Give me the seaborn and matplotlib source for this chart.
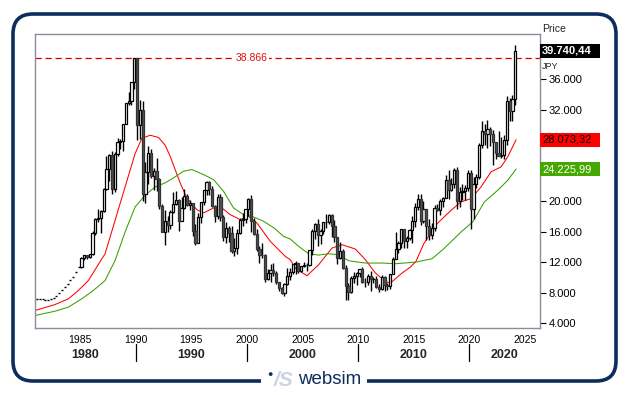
import numpy as np
import pandas as pd
import seaborn as sns
import matplotlib.pyplot as plt
import matplotlib.transforms as mtransforms
from matplotlib.patches import FancyBboxPatch, Rectangle

# --- data (quarterly) ---
early_close = [7100, 7200, 7150, 7050,
               7000, 7150, 7300, 7600,
               7900, 8300, 8700, 9100,
               9600, 10100, 10700, 11300]   # 1981Q1 - 1984Q4

q_close = [12580, 12880, 12700, 13110,  # 1985
           15860, 17650, 17850, 18700,
           21570, 24180, 26010, 21560,
           26260, 27770, 27920, 30160,
           32840, 33180, 35640, 38800,
           29980, 31940, 20980, 23850,  # 1990
           26290, 23290, 23920, 22980,
           19350, 15950, 17400, 16920,
           18590, 19590, 20110, 17420,
           19110, 20640, 19560, 19720,
           16140, 14520, 17910, 19870,  # 1995
           21410, 22530, 21560, 19360,
           18000, 20600, 17890, 15260,
           16530, 15830, 13410, 13840,
           15840, 17530, 17600, 18930,
           20340, 17410, 15750, 13790,  # 2000
           12990, 12970, 9770, 10540,
           11020, 10620, 9380, 8580,
           7970, 9080, 10220, 10680,
           11720, 11860, 10820, 11490,
           11670, 11580, 13570, 16110,  # 2005
           17060, 15510, 16130, 17230,
           17290, 18140, 16790, 15310,
           12530, 13480, 11260, 8860,
           8110, 9960, 10130, 10550,
           11090, 9380, 9370, 10230,  # 2010
           9760, 9820, 8700, 8460,
           10080, 9010, 8870, 10400,
           12400, 13680, 14460, 16290,
           14830, 15160, 16170, 17450,
           19210, 20240, 17390, 19030,  # 2015
           16760, 15580, 16450, 19110,
           18910, 20030, 20360, 22760,
           21450, 22300, 24120, 20010,
           21210, 21280, 21760, 23660,
           18920, 22290, 23190, 27440,  # 2020
           29180, 28790, 29450, 28790,
           27820, 26390, 25940, 26090,
           28040, 33190, 31860, 33460,
           39740]                        # 2024Q1

q_high = [12700, 12960, 12900, 13130,
          16100, 17800, 18930, 18900,
          21800, 25930, 26200, 26650,
          26400, 28340, 28200, 30200,
          32900, 34300, 35700, 38866,
          38700, 33300, 33200, 25200,
          27200, 26900, 24300, 25700,
          23000, 19650, 18900, 18000,
          18900, 21150, 21300, 20300,
          20500, 21550, 21000, 20200,
          19800, 17000, 18400, 19900,
          21500, 22700, 22700, 22000,
          19500, 20900, 20900, 18200,
          17300, 16800, 16700, 15200,
          16400, 17800, 18500, 19000,
          20400, 20800, 17800, 16300,
          14100, 14500, 13100, 11100,
          11800, 11950, 10900, 9300,
          8800, 9200, 11200, 11200,
          11800, 12200, 11900, 11500,
          11980, 11900, 13600, 16400,
          17100, 17600, 16400, 17300,
          18300, 18300, 18260, 17500,
          15200, 14600, 13700, 11600,
          9300, 10200, 10700, 10700,
          11100, 11400, 9900, 10400,
          10900, 10000, 10200, 9100,
          10250, 10200, 9300, 10450,
          12650, 15940, 14800, 16300,
          16200, 15400, 16400, 18000,
          19800, 20950, 20900, 20000,
          18900, 17600, 17100, 19500,
          19700, 20300, 20500, 23400,
          24130, 23050, 24300, 24450,
          21900, 22300, 22100, 24100,
          24100, 23200, 23600, 27600,
          30500, 30200, 30700, 29800,
          29400, 27800, 29200, 28400,
          28700, 33770, 33500, 33900,
          40500]

q_low = [11250, 12300, 12450, 12600,
         12900, 15500, 17300, 15820,
         18550, 21500, 22700, 20900,
         21200, 25900, 26800, 26600,
         30100, 32600, 32600, 34700,
         28000, 28200, 20000, 19800,
         22300, 23000, 21500, 21400,
         19000, 15900, 14300, 15900,
         16300, 18500, 19500, 16100,
         17400, 19000, 19400, 18900,
         15400, 14300, 14500, 17200,
         19500, 20800, 20800, 19200,
         17300, 17700, 17400, 14800,
         14500, 14700, 13200, 12800,
         13100, 15700, 16800, 17100,
         18100, 16000, 15600, 13400,
         11900, 12500, 9400, 9600,
         9400, 10200, 9100, 8200,
         7800, 7600, 9000, 9600,
         10400, 10500, 10600, 10700,
         11300, 10800, 11500, 12900,
         15100, 14100, 14400, 15700,
         16500, 17000, 15300, 14700,
         11700, 12400, 11100, 6990,
         7050, 8000, 9300, 9000,
         10000, 9300, 8800, 9000,
         8200, 9300, 8600, 8100,
         8300, 8200, 8300, 8500,
         10400, 12400, 13200, 13800,
         13900, 13900, 14900, 14500,
         16600, 18800, 16900, 17100,
         14900, 14900, 15000, 16100,
         18700, 18200, 19200, 20400,
         20300, 21300, 21800, 18950,
         19200, 20100, 20100, 21400,
         16360, 17600, 21700, 22950,
         27000, 27400, 26950, 27300,
         24700, 25500, 25900, 25700,
         25600, 27400, 30500, 30500,
         32700]

ma_red_year = [1980.95, 1982.75, 1983.95, 1984.85, 1985.75, 1986.5, 1987.25, 1988.15,
               1989.05, 1989.95, 1990.55, 1991.3, 1992.05, 1992.65, 1993.1, 1994.0,
               1994.6, 1995.5, 1996.1, 1997.0, 1997.75, 1998.5, 1999.4, 2000.15,
               2000.9, 2002.1, 2003.0, 2003.45, 2003.9, 2004.35, 2005.4, 2006.45,
               2007.65, 2008.55, 2009.75, 2010.65, 2011.55, 2012.45, 2012.9, 2013.95,
               2014.7, 2015.2, 2015.9, 2017.1, 2018.35, 2019.25, 2020.15, 2021.05,
               2021.95, 2022.85, 2023.45, 2024.2]
ma_red = [5650, 6430, 7180, 8280, 9590, 11350, 13100, 17490,
          21880, 26260, 28240, 28670, 28370, 27360, 25910, 22410,
          20430, 18890, 18460, 19110, 19110, 18240, 17580, 18020,
          17140, 14730, 13410, 12750, 12320, 11220, 10210, 11660,
          13850, 14290, 13720, 12320, 10570, 9470, 9250, 10570,
          11350, 12100, 14420, 17050, 18800, 19910, 20340, 21880,
          23860, 24510, 25830, 28073]

ma_green_year = [1980.95, 1982.75, 1983.95, 1985.15, 1986.2, 1987.25, 1988.15, 1989.05,
                 1989.95, 1990.85, 1991.75, 1992.65, 1993.4, 1994.3, 1995.05, 1996.1,
                 1997.0, 1997.9, 1998.8, 1999.7, 2000.6, 2001.5, 2002.45, 2003.3,
                 2003.9, 2004.65, 2005.55, 2006.45, 2007.35, 2008.25, 2009.15, 2010.65,
                 2012.2, 2013.4, 2015.2, 2016.65, 2017.7, 2019.25, 2020.3, 2021.35,
                 2022.55, 2023.45, 2024.2]
ma_green = [4990, 5560, 6090, 7180, 8280, 9590, 12220, 15960,
            19250, 20780, 21880, 22410, 23060, 23940, 24160, 23500,
            22840, 21300, 19110, 18240, 17930, 17360, 16480, 15380,
            15040, 14070, 13100, 12930, 13100, 12970, 12180, 11880,
            11880, 11790, 12010, 12450, 13760, 15960, 17280, 19910,
            21440, 22750, 24226]

last_price = 39740.44
ma_red_last = 28073.32
ma_green_last = 24225.99
record_high = 38866

year_ticks = [1985, 1990, 1995, 2000, 2005, 2010, 2015, 2020, 2025]
decades = ["1980", "1990", "2000", "2010", "2020"]
# 24.000, 28.000 and 40.000 sit under the value boxes in the reference
price_ticks = [4000, 8000, 12000, 16000, 20000, 32000, 36000]


def de(v, dec=0):
    s = f"{v:,.{dec}f}"
    return s.replace(",", "X").replace(".", ",").replace("X", ".")


# --- frame ---
sns.set_theme(style="white")
plt.rcParams['font.family'] = ['Liberation Sans', 'DejaVu Sans']

fig = plt.figure(figsize=(6.29, 3.95), dpi=100)
fig.patch.set_facecolor('white')
navy = '#0d2d5c'
px = mtransforms.IdentityTransform()
fig.patches.append(FancyBboxPatch((13, 14), 603, 367, boxstyle="round,pad=0,rounding_size=20",
                                  transform=px, fc='none', ec=navy, lw=2.6, figure=fig))
fig.patches.append(Rectangle((261, 6), 106, 16, transform=px, fc='white', ec='none',
                             figure=fig, zorder=5))
fig.text(270 / 629, 1 - 374 / 395, '●', color=navy, fontsize=6.5, ha='center', va='center', zorder=6)
fig.text(284 / 629, 1 - 381 / 395, '/S', color='#c9d5e4', fontsize=15, fontweight='bold',
         style='italic', ha='center', va='center', zorder=6)
fig.text(330 / 629, 1 - 380 / 395, 'websim', color=navy, fontsize=13.5, ha='center',
         va='center', zorder=6)

ax = fig.add_axes([35 / 629, 67 / 395, 505 / 629, 294 / 395])
ax.set_facecolor('white')

# --- early closes shown as dashes ---
early_x = 1981.125 + 0.25 * np.arange(len(early_close))
ax.hlines(early_close, early_x - 0.09, early_x + 0.09, color='black', lw=1.0, zorder=3)

# --- candles ---
c = np.array(q_close, float)
h = np.array(q_high, float)
l = np.array(q_low, float)
o = np.concatenate([[early_close[-1]], c[:-1]])
x = 1985.125 + 0.25 * np.arange(len(c))
up = c >= o
w = 0.2
ax.vlines(x, l, h, color='black', lw=1.0, zorder=3)
ax.bar(x[up], (c - o)[up], bottom=o[up], width=w, color='white', edgecolor='black', lw=0.9, zorder=4)
ax.bar(x[~up], (o - c)[~up], bottom=c[~up], width=w, color='#555555', edgecolor='#333333', lw=0.9, zorder=4)

# --- moving averages ---
sns.lineplot(x=ma_red_year, y=ma_red, color='#ff0000', lw=0.75, ax=ax, zorder=2,
             estimator=None, sort=False)
sns.lineplot(x=ma_green_year, y=ma_green, color='#3a9e00', lw=0.75, ax=ax, zorder=2,
             estimator=None, sort=False)

# --- record line ---
ax.axhline(record_high, color='#d40000', lw=0.9, ls=(0, (5, 3)), zorder=1)
ax.text(2000.4, record_high, de(record_high), color='#e01010', fontsize=7.5, ha='center',
        va='center', bbox=dict(fc='white', ec='none', pad=1.0), zorder=5)

ax.set_xlim(1980.95, 2026.35)
ax.set_ylim(3350, 41960)

for s in ax.spines.values():
    s.set_color('#8c8c9c')
    s.set_linewidth(1.0)

ax.yaxis.tick_right()
ax.set_yticks(price_ticks)
ax.set_yticklabels([de(v) for v in price_ticks])
ax.tick_params(axis='y', direction='out', length=4, width=0.8, pad=2, labelsize=8,
               color='black', labelcolor='black')
ax.set_xticks(year_ticks)
ax.set_xticklabels([str(y) for y in year_ticks])
ax.tick_params(axis='x', direction='out', length=3, width=0.8, pad=2, labelsize=7.5,
               color='black', labelcolor='black')
ax.set_xlabel('')
ax.set_ylabel('')

# decade row
xt = ax.get_xaxis_transform()
lo, hi = ax.get_xlim()
for d in decades:
    start = max(int(d), lo)
    end = min(int(d) + 10, hi)
    ax.text((start + end) / 2, -0.092, d, transform=xt, ha='center', va='center',
            fontsize=9, fontweight='bold', clip_on=False)
    if int(d) > lo:
        ax.plot([int(d), int(d)], [-0.054, -0.112], transform=xt, color='black',
                lw=0.9, clip_on=False)

# right-hand value labels
bt = mtransforms.blended_transform_factory(ax.transAxes, ax.transData)
box_h = 14 / 7.6 * 1000
ax.text(1.004, 1.0, 'Price', transform=ax.transAxes, fontsize=7.5, ha='left', va='bottom',
        clip_on=False)
ax.text(1.004, 38300, 'JPY', transform=bt, fontsize=6.5, ha='left', va='top', clip_on=False)
for val, fc, tc, bold in [(last_price, 'black', 'white', True),
                          (ma_red_last, '#ff0000', 'black', False),
                          (ma_green_last, '#44a800', 'white', False)]:
    ax.add_patch(Rectangle((1.0, val - box_h / 2), 60 / 505, box_h, transform=bt,
                           fc=fc, ec='none', clip_on=False, zorder=6))
    ax.text(1.004, val, de(val, 2), transform=bt, color=tc, fontsize=8,
            fontweight='bold' if bold else 'normal', ha='left', va='center',
            clip_on=False, zorder=7)

fig.savefig('out.png', dpi=100, facecolor='white')
